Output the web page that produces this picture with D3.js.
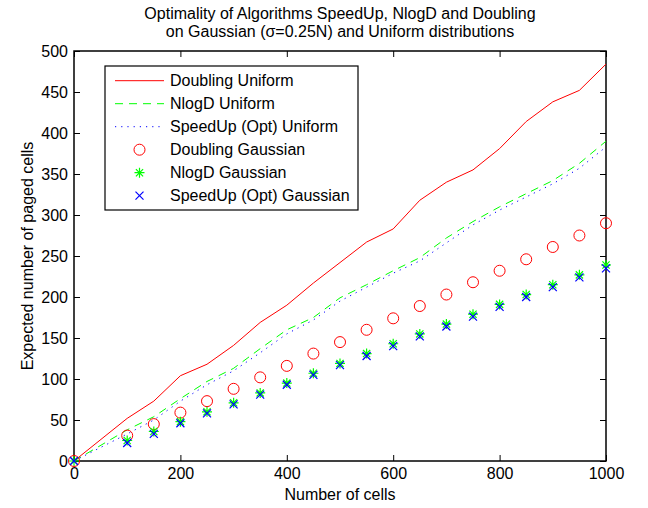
<!DOCTYPE html>
<html><head><meta charset="utf-8">
<script src="https://cdn.jsdelivr.net/npm/d3@7"></script>
<style>
body{margin:0;background:#fff}
text{font-family:"Liberation Sans",Arial,Helvetica,sans-serif;fill:#000}
</style>
</head><body>
<svg id="c" width="648" height="508"></svg>
<script>
const cells = [0,100,150,200,250,300,350,400,450,500,550,600,650,700,750,800,850,900,950,1000];
const doublingUniform = [0,52,73,104,118,141,169,190,217,242,267,283,318,340,355,381,414,438,452,484];
const nlogdUniform    = [0,38,54,76,97,113,137,160,175,199,215,232,248,272,292,310,326,342,363,390];
const speedupUniform  = [0,33,50,73,93,110,132,155,172,195,212,229,244,266,288,306,322,338,357,383];
const doublingGaussian = [0,31,45,59,73,88,102,116,131,145,160,174,189,203,218,232,246,261,275,290];
const nlogdGaussian    = [0,25,36,48,60,71,83,95,107,119,131,143,155,167,179,191,203,215,227,239];
const speedupGaussian  = [0,22,33,46,58,69,81,93,105,117,128,140,152,164,176,188,200,212,224,235];
const xTicks = [0,200,400,600,800,1000];
const yTicks = [0,50,100,150,200,250,300,350,400,450,500];
const titleLines = ["Optimality of Algorithms SpeedUp, NlogD and Doubling","on Gaussian (\u03c3=0.25N) and Uniform distributions"];
const legendLabels = ["Doubling Uniform","NlogD Uniform","SpeedUp (Opt) Uniform","Doubling Gaussian","NlogD Gaussian","SpeedUp (Opt) Gaussian"];

const L=74,R=606,T=51,B=461;
const svg=d3.select("#c");
const x=d3.scaleLinear().domain([0,1000]).range([L,R]);
const y=d3.scaleLinear().domain([0,500]).range([B,T]);
const fmt=d3.format("d");

// axes
const ax=(g)=>g.selectAll(".domain").remove();
svg.append("g").attr("transform",`translate(0,${B})`)
  .call(d3.axisBottom(x).tickValues(xTicks).tickFormat(fmt).tickSizeInner(-6).tickSizeOuter(0).tickPadding(7))
  .call(ax).call(g=>g.selectAll("text").attr("font-size",16).attr("font-family",null));
svg.append("g").attr("transform",`translate(0,${T})`)
  .call(d3.axisTop(x).tickValues(xTicks).tickSizeInner(-6).tickSizeOuter(0).tickFormat(""))
  .call(ax);
svg.append("g").attr("transform",`translate(${L},0)`)
  .call(d3.axisLeft(y).tickValues(yTicks).tickFormat(fmt).tickSizeInner(-6).tickSizeOuter(0).tickPadding(6))
  .call(ax).call(g=>g.selectAll("text").attr("font-size",16).attr("font-family",null));
svg.append("g").attr("transform",`translate(${R},0)`)
  .call(d3.axisRight(y).tickValues(yTicks).tickSizeInner(-6).tickSizeOuter(0).tickFormat(""))
  .call(ax);
svg.selectAll(".tick line").attr("stroke","#000").attr("stroke-width",1);
svg.append("rect").attr("x",L).attr("y",T).attr("width",R-L).attr("height",B-T)
  .attr("fill","none").attr("stroke","#000").attr("stroke-width",1.5);

// lines
const line=(vals)=>d3.line().x((d,i)=>x(cells[i])).y(d=>y(d))(vals);
const styles=[
  {vals:doublingUniform,color:"#ff0000",dash:null},
  {vals:nlogdUniform,color:"#00ff00",dash:"8,6"},
  {vals:speedupUniform,color:"#0000ff",dash:"1.2,5"}
];
styles.forEach(s=>{
  svg.append("path").attr("d",line(s.vals)).attr("fill","none")
    .attr("stroke",s.color).attr("stroke-width",1).attr("stroke-dasharray",s.dash);
});

// markers
const starPath=(cx,cy)=>{const a=5,b=3.6;return `M${cx-a},${cy}L${cx+a},${cy}M${cx},${cy-a}L${cx},${cy+a}M${cx-b},${cy-b}L${cx+b},${cy+b}M${cx-b},${cy+b}L${cx+b},${cy-b}`;};
const xPath=(cx,cy)=>{const a=4;return `M${cx-a},${cy-a}L${cx+a},${cy+a}M${cx-a},${cy+a}L${cx+a},${cy-a}`;};
svg.append("g").selectAll("circle").data(doublingGaussian).join("circle")
  .attr("cx",(d,i)=>x(cells[i])).attr("cy",d=>y(d)).attr("r",5.5)
  .attr("fill","none").attr("stroke","#ff0000").attr("stroke-width",1);
svg.append("g").selectAll("path").data(nlogdGaussian).join("path")
  .attr("d",(d,i)=>starPath(x(cells[i]),y(d))).attr("stroke","#00ff00").attr("stroke-width",1.2).attr("fill","none");
svg.append("g").selectAll("path").data(speedupGaussian).join("path")
  .attr("d",(d,i)=>xPath(x(cells[i]),y(d))).attr("stroke","#0000ff").attr("stroke-width",1.2).attr("fill","none");

// title
svg.append("g").selectAll("text").data(titleLines).join("text")
  .attr("x",340).attr("y",(d,i)=>19+i*18).attr("text-anchor","middle").attr("font-size",16).text(d=>d);
// axis labels
svg.append("text").attr("x",(L+R)/2).attr("y",500).attr("text-anchor","middle").attr("font-size",16).text("Number of cells");
svg.append("text").attr("transform",`translate(33,${(T+B)/2}) rotate(-90)`).attr("text-anchor","middle").attr("font-size",16).text("Expected number of paged cells");

// legend
const lg=svg.append("g");
lg.append("rect").attr("x",105).attr("y",66).attr("width",253).attr("height",144).attr("fill","#fff").attr("stroke","#000").attr("stroke-width",1.2);
const rowY=i=>80.7+i*23;
legendLabels.forEach((lab,i)=>{
  const yy=rowY(i);
  lg.append("text").attr("x",170).attr("y",yy).attr("dy","0.35em").attr("font-size",16).text(lab);
  if(i<3){
    lg.append("line").attr("x1",115).attr("x2",164).attr("y1",yy).attr("y2",yy)
      .attr("stroke",styles[i].color).attr("stroke-width",1).attr("stroke-dasharray",styles[i].dash);
  }else if(i===3){
    lg.append("circle").attr("cx",139.5).attr("cy",yy).attr("r",5.5).attr("fill","none").attr("stroke","#ff0000");
  }else if(i===4){
    lg.append("path").attr("d",starPath(139.5,yy)).attr("stroke","#00ff00").attr("stroke-width",1.2);
  }else{
    lg.append("path").attr("d",xPath(139.5,yy)).attr("stroke","#0000ff").attr("stroke-width",1.2);
  }
});
</script>
</body></html>
